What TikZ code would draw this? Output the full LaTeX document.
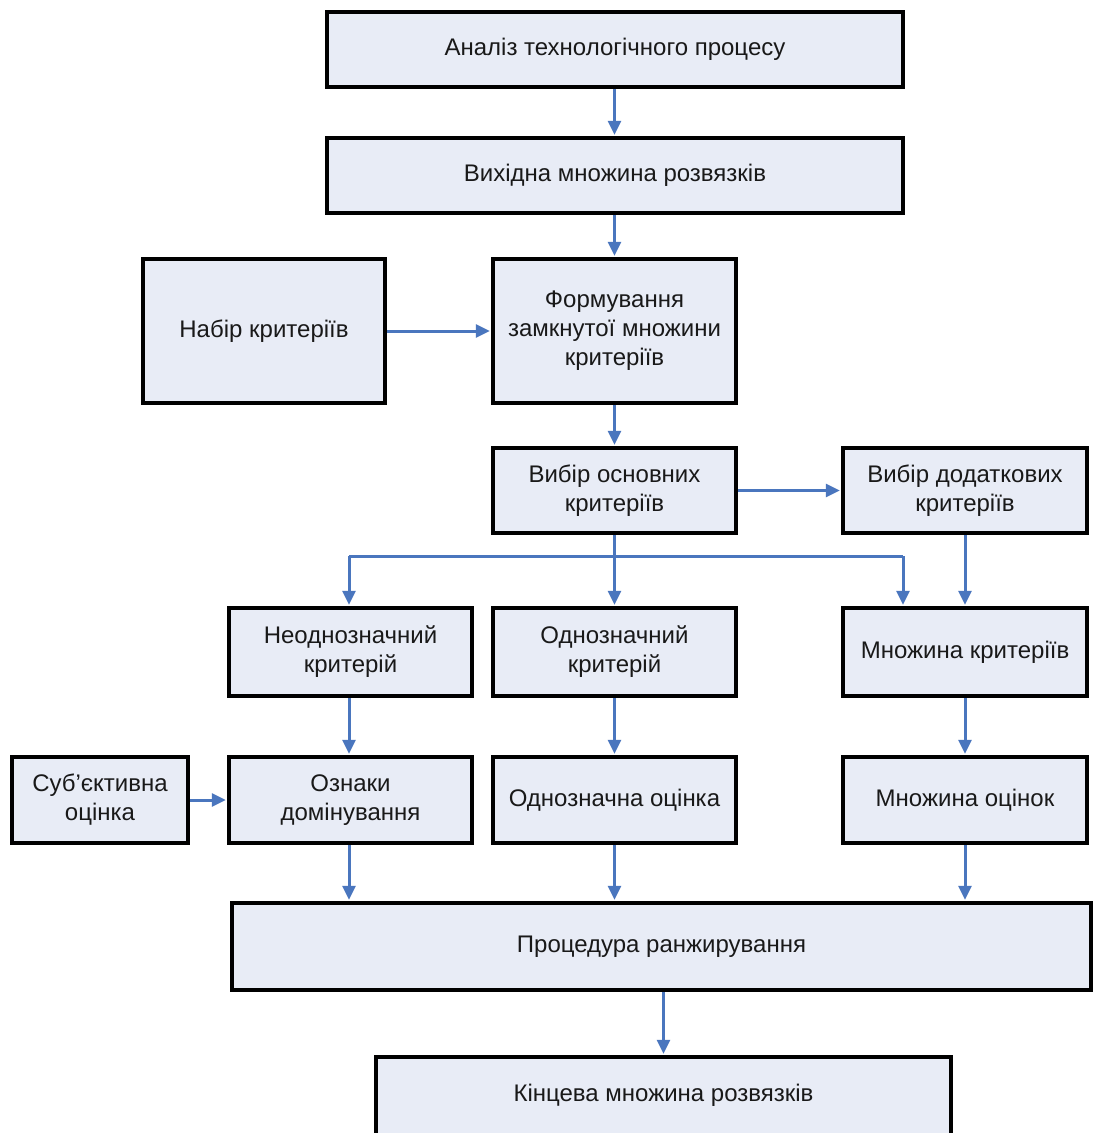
\documentclass[tikz,border=0pt]{standalone}
\usepackage{fontspec}
\setmainfont{Liberation Sans}
\usetikzlibrary{arrows.meta}
\definecolor{boxfill}{RGB}{232,236,246}
\definecolor{linkblue}{RGB}{74,118,190}
\tikzset{
  block/.style={draw=black, line width=4.5pt, fill=boxfill, inner sep=2pt,
    align=center, font=\fontsize{24}{29}\selectfont, text=black!90},
  link/.style={draw=linkblue, line width=3pt},
  arr/.style={link, -{Triangle[length=14pt,width=13pt]}, shorten >=1pt},
}
% box given by its corners: \blk{name}{x1}{y1}{x2}{y2}{text}
\newcommand{\blk}[6]{%
  \node[block, minimum width=#4pt-#2pt, minimum height=#5pt-#3pt]
    (#1) at ({(#2+#4)/2}, {(#3+#5)/2}) {#6};}
\begin{document}
\begin{tikzpicture}[x=1pt, y=-1pt]
\useasboundingbox (0,0) rectangle (1093,1133);
\fill[white] (0,0) rectangle (1093,1133);

\blk{analiz}{327}{12}{903}{87}{Аналіз технологічного процесу}
\blk{vyhid}{327}{138}{903}{213}{Вихідна множина розвязків}
\blk{nabir}{143}{259}{385}{403}{Набір критеріїв}
\blk{form}{493}{259}{736}{403}{Формування\\замкнутої множини\\критеріїв}
\blk{osn}{493}{448}{736}{533}{Вибір основних\\критеріїв}
\blk{dod}{843}{448}{1087}{533}{Вибір додаткових\\критеріїв}
\blk{neodn}{229}{608}{472}{696}{Неоднозначний\\критерій}
\blk{odn}{493}{608}{736}{696}{Однозначний\\критерій}
\blk{mnkr}{843}{608}{1087}{696}{Множина критеріїв}
\blk{sub}{12}{757}{188}{843}{Суб’єктивна\\оцінка}
\blk{dom}{229}{757}{472}{843}{Ознаки\\домінування}
\blk{odnoc}{493}{757}{736}{843}{Однозначна оцінка}
\blk{mnoc}{843}{757}{1087}{843}{Множина оцінок}
\blk{rang}{232}{903}{1091}{990}{Процедура ранжирування}
\blk{kinc}{376}{1057}{951}{1145}{}
\node[font=\fontsize{24}{29}\selectfont, text=black!90] (kinctext) at (663.5,1095) {Кінцева множина розвязків};

% main column
\draw[arr] (analiz.south -| form.north) -- (vyhid.north -| form.north);
\draw[arr] (vyhid.south -| form.north) -- (form.north);
\draw[arr] (nabir.east) -- (form.west);
\draw[arr] (form.south) -- (osn.north);
\draw[arr] (osn.east) -- (dod.west);
\draw[arr] (osn.south) -- (odn.north);

% distribution line under the criteria selection
\coordinate (jl) at (349,556);
\coordinate (jr) at (903,556);
\draw[link] (jl) -- (jr);
\draw[arr] (jl) -- (jl |- neodn.north);
\draw[arr] (jr) -- (jr |- mnkr.north);
\draw[arr] (dod.south -| mnkr.south) -- (mnkr.north);

% criteria to estimates
\draw[arr] (neodn.south -| jl) -- (dom.north -| jl);
\draw[arr] (odn.south) -- (odnoc.north);
\draw[arr] (mnkr.south) -- (mnoc.north);
\draw[arr] (sub.east) -- (dom.west);

% estimates to ranking
\draw[arr] (dom.south -| jl) -- (rang.north -| jl);
\draw[arr] (odnoc.south) -- (rang.north -| odnoc.south);
\draw[arr] (mnoc.south) -- (rang.north -| mnoc.south);
\draw[arr] (rang.south -| kinc.north) -- (kinc.north);
\end{tikzpicture}
\end{document}
